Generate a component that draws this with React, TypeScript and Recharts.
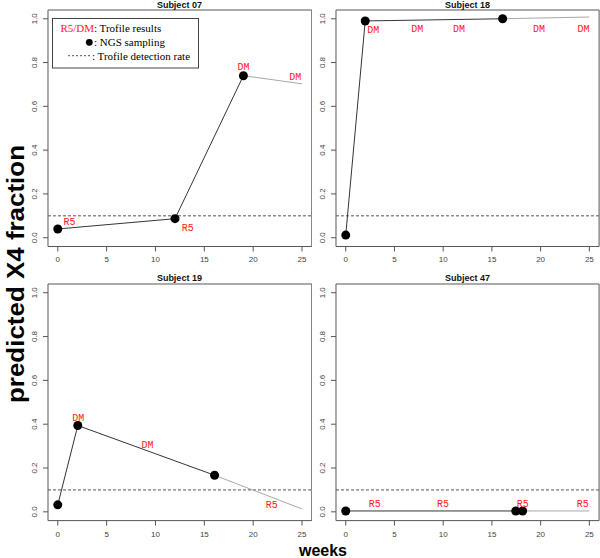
import React from 'react';
import {
  ComposedChart,
  Line,
  Scatter,
  XAxis,
  YAxis,
  ReferenceLine,
  ReferenceArea,
} from 'recharts';

// ---------- data ----------
const weekTicks = [0, 5, 10, 15, 20, 25];
const fractionTicks = [0, 0.2, 0.4, 0.6, 0.8, 1.0];
const detectionRate = 0.1;

const subjectNames = ['Subject 07', 'Subject 18', 'Subject 19', 'Subject 47'];

// Subject 07
const weeks07 = [0, 12, 19];
const frac07 = [0.04, 0.087, 0.74];
const extWeeks07 = [19, 25];
const extFrac07 = [0.74, 0.703];
const labelWeeks07 = [1.2, 13.3, 19.0, 24.3];
const labelFrac07 = [0.072, 0.046, 0.782, 0.737];
const labelText07 = ['R5', 'R5', 'DM', 'DM'];

// Subject 18
const weeks18 = [0, 2, 16.1];
const frac18 = [0.012, 0.99, 1.0];
const extWeeks18 = [16.1, 25];
const extFrac18 = [1.0, 1.008];
const labelWeeks18 = [2.83, 7.35, 11.63, 19.84, 24.4];
const labelFrac18 = [0.95, 0.954, 0.954, 0.954, 0.954];
const labelText18 = ['DM', 'DM', 'DM', 'DM', 'DM'];

// Subject 19
const weeks19 = [0, 2.05, 16.05];
const frac19 = [0.032, 0.394, 0.167];
const extWeeks19 = [16.05, 25];
const extFrac19 = [0.167, 0.013];
const labelWeeks19 = [2.09, 9.19, 21.9];
const labelFrac19 = [0.431, 0.309, 0.035];
const labelText19 = ['DM', 'DM', 'R5'];

// Subject 47
const weeks47 = [0, 17.45, 18.15];
const frac47 = [0.004, 0.004, 0.004];
const extWeeks47 = [18.15, 25];
const extFrac47 = [0.004, 0.004];
const labelWeeks47 = [2.98, 9.99, 18.17, 24.32];
const labelFrac47 = [0.037, 0.037, 0.037, 0.037];
const labelText47 = ['R5', 'R5', 'R5', 'R5'];

const zip = (xs: number[], ys: number[]) => xs.map((x, i) => ({ x, y: ys[i] }));
const zipLabels = (xs: number[], ys: number[], ls: string[]) =>
  xs.map((x, i) => ({ x, y: ys[i], label: ls[i] }));

const panelsData = [
  { points: zip(weeks07, frac07), ext: zip(extWeeks07, extFrac07), labels: zipLabels(labelWeeks07, labelFrac07, labelText07) },
  { points: zip(weeks18, frac18), ext: zip(extWeeks18, extFrac18), labels: zipLabels(labelWeeks18, labelFrac18, labelText18) },
  { points: zip(weeks19, frac19), ext: zip(extWeeks19, extFrac19), labels: zipLabels(labelWeeks19, labelFrac19, labelText19) },
  { points: zip(weeks47, frac47), ext: zip(extWeeks47, extFrac47), labels: zipLabels(labelWeeks47, labelFrac47, labelText47) },
];

// ---------- layout ----------
const plotBoxes = [
  { left: 47.5, top: 10.24, w: 263.8, h: 236.5 },
  { left: 336, top: 10.24, w: 263.1, h: 236.5 },
  { left: 47.5, top: 283.5, w: 263.8, h: 236.6 },
  { left: 336, top: 283.5, w: 263.1, h: 236.6 },
];

const SANS = 'Liberation Sans, Arial, Helvetica, sans-serif';
const SERIF = 'Liberation Serif, Times New Roman, serif';
const MONO = 'Liberation Mono, Courier New, monospace';

const ML = 45;
const MT = 10;
const MB = 30;
const MR = 1;

const YTick = (props: any) => {
  const { x, y, payload } = props;
  return (
    <text
      transform={`translate(${x - 6},${y}) rotate(-90)`}
      textAnchor="middle"
      fontSize={8}
      fill="#444"
      fontFamily={SANS}
    >
      {Number(payload.value).toFixed(1)}
    </text>
  );
};

const XTick = (props: any) => {
  const { x, y, payload } = props;
  return (
    <text x={x} y={y + 11} textAnchor="middle" fontSize={8} fill="#444" fontFamily={SANS}>
      {payload.value}
    </text>
  );
};

const LabelShape = (props: any) => {
  const { cx, cy, payload } = props;
  return (
    <text x={cx} y={cy} dy="0.35em" textAnchor="middle" fill="#ff2020" fontSize={10} fontFamily={MONO}>
      {payload.label}
    </text>
  );
};

const Panel = ({ idx }: { idx: number }) => {
  const box = plotBoxes[idx];
  const d = panelsData[idx];
  const width = ML + box.w + MR;
  const height = MT + box.h + MB;
  return (
    <div style={{ position: 'absolute', left: box.left - ML, top: box.top - MT, width, height }}>
      <ComposedChart width={width} height={height} margin={{ top: MT, right: MR, bottom: 0, left: 0 }}>
        <XAxis
          type="number"
          dataKey="x"
          domain={[-1, 26]}
          ticks={weekTicks}
          allowDataOverflow
          axisLine={false}
          tickLine={{ stroke: '#555' }}
          tickSize={5}
          tickMargin={0}
          height={MB}
          tick={<XTick />}
          interval={0}
        />
        <YAxis
          type="number"
          dataKey="y"
          domain={[-0.04, 1.04]}
          ticks={fractionTicks}
          allowDataOverflow
          axisLine={false}
          tickLine={{ stroke: '#555' }}
          tickSize={5}
          tickMargin={0}
          width={ML}
          tick={<YTick />}
          interval={0}
        />
        <ReferenceArea
          x1={-1}
          x2={26}
          y1={-0.04}
          y2={1.04}
          fill="none"
          fillOpacity={0}
          stroke="#555"
          strokeWidth={1}
          ifOverflow="visible"
        />
        <ReferenceLine y={detectionRate} stroke="#555" strokeDasharray="3 2" strokeWidth={1} />
        <Line
          data={d.ext}
          dataKey="y"
          type="linear"
          stroke="#a8a8a8"
          strokeWidth={1}
          dot={false}
          activeDot={false}
          isAnimationActive={false}
        />
        <Line
          data={d.points}
          dataKey="y"
          type="linear"
          stroke="#333"
          strokeWidth={1}
          dot={{ r: 4.5, fill: '#000', stroke: '#000', strokeWidth: 0 }}
          activeDot={false}
          isAnimationActive={false}
        />
        <Scatter data={d.labels} dataKey="y" shape={<LabelShape />} isAnimationActive={false} />
      </ComposedChart>
    </div>
  );
};

const Overlay = () => {
  const titleBaseline = (i: number) => plotBoxes[i].top - (i < 2 ? 1.8 : 3);
  return (
    <svg
      width={600}
      height={558}
      style={{ position: 'absolute', left: 0, top: 0, pointerEvents: 'none' }}
    >
      {plotBoxes.map((b, i) => (
        <text
          key={i}
          x={b.left + b.w / 2}
          y={titleBaseline(i)}
          textAnchor="middle"
          fontSize={9}
          fontWeight="bold"
          fontFamily={SANS}
          fill="#111"
        >
          {subjectNames[i]}
        </text>
      ))}
      <text
        transform="translate(24,274) rotate(-90)"
        textAnchor="middle"
        fontSize={24}
        fontWeight="bold"
        fontFamily={SANS}
        fill="#000"
        textLength={258}
        lengthAdjust="spacingAndGlyphs"
      >
        predicted X4 fraction
      </text>
      <text x={323} y={556} textAnchor="middle" fontSize={16} fontWeight="bold" fontFamily={SANS} fill="#000">
        weeks
      </text>
      {/* legend */}
      <rect x={52.5} y={18.5} width={146} height={49.5} fill="#fff" stroke="#444" strokeWidth={1} />
      <text x={94} y={32} textAnchor="end" fontSize={11} fontFamily={SERIF} fill="#ff2020">
        R5/DM
      </text>
      <text x={94} y={32} fontSize={11} fontFamily={SERIF} fill="#000">
        : Trofile results
      </text>
      <circle cx={89.3} cy={42.3} r={3.4} fill="#000" />
      <text x={94} y={46} fontSize={11} fontFamily={SERIF} fill="#000">
        : NGS sampling
      </text>
      <line x1={68} y1={55.7} x2={91} y2={55.7} stroke="#555" strokeDasharray="2 2" />
      <text x={92} y={59.5} fontSize={11} fontFamily={SERIF} fill="#000">
        {' : Trofile detection rate'}
      </text>
    </svg>
  );
};

export default function App() {
  return (
    <div
      style={{
        position: 'absolute',
        left: 0,
        top: 0,
        width: 600,
        height: 558,
        background: '#fff',
        overflow: 'hidden',
      }}
    >
      {[0, 1, 2, 3].map((i) => (
        <Panel key={i} idx={i} />
      ))}
      <Overlay />
    </div>
  );
}
